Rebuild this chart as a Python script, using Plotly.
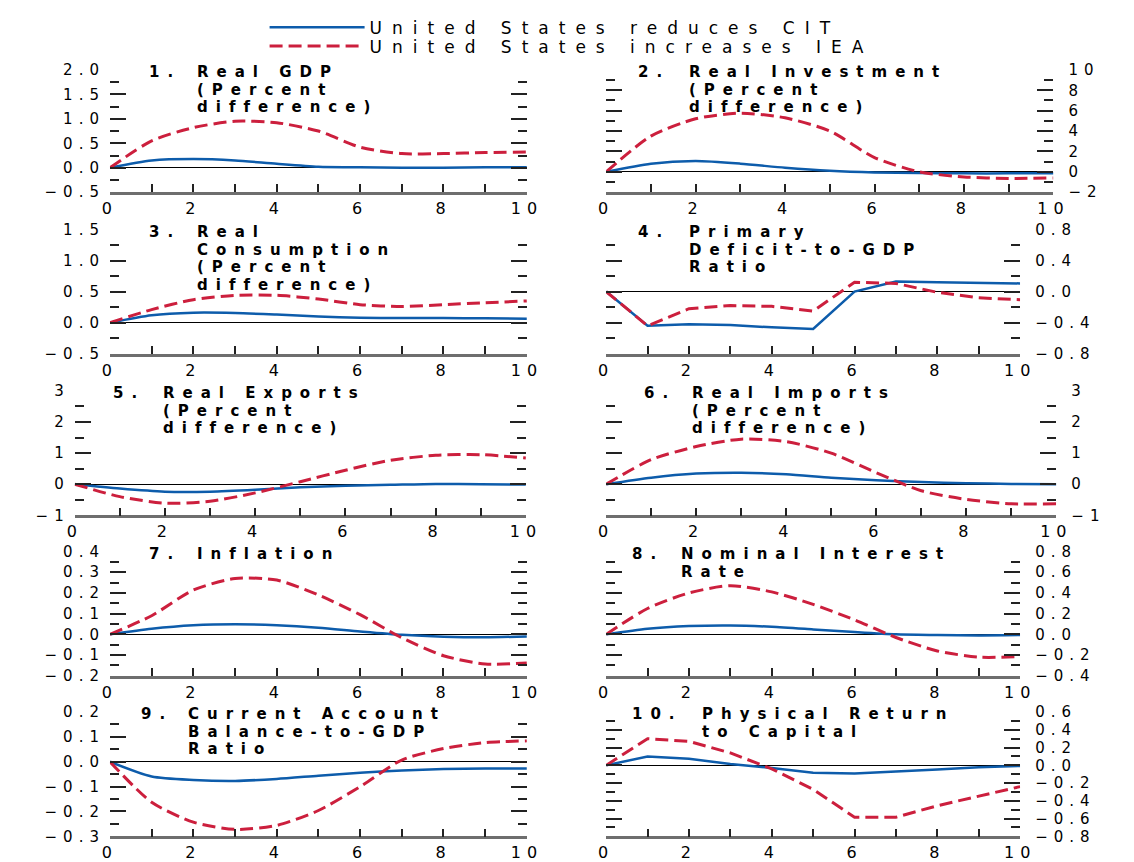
import plotly.graph_objects as go

# ---------------- data ----------------
years = list(range(11))
x_ticks = [0, 2, 4, 6, 8, 10]

gdp_cit = [0, 0.15, 0.18, 0.15, 0.08, 0.02, 0.01, 0.0, 0.0, 0.01, 0.01]
gdp_iea = [0, 0.55, 0.82, 0.95, 0.92, 0.75, 0.42, 0.29, 0.29, 0.31, 0.32]

inv_cit = [0, 0.8, 1.05, 0.8, 0.4, 0.1, -0.06, -0.12, -0.15, -0.15, -0.15]
inv_iea = [0, 3.5, 5.2, 5.75, 5.3, 4.0, 1.4, 0.0, -0.5, -0.65, -0.6]

cons_cit = [0, 0.12, 0.16, 0.155, 0.13, 0.10, 0.08, 0.075, 0.075, 0.07, 0.065]
cons_iea = [0, 0.21, 0.37, 0.44, 0.44, 0.38, 0.29, 0.26, 0.29, 0.32, 0.35]

def_cit = [0, -0.44, -0.42, -0.43, -0.46, -0.48, 0.0, 0.13, 0.12, 0.11, 0.105]
def_iea = [0, -0.44, -0.22, -0.18, -0.19, -0.25, 0.12, 0.105, -0.01, -0.08, -0.105]

exp_cit = [0, -0.14, -0.24, -0.24, -0.18, -0.10, -0.05, -0.02, 0.01, 0.0, -0.01]
exp_iea = [0, -0.40, -0.61, -0.55, -0.28, 0.08, 0.45, 0.77, 0.93, 0.95, 0.84]

imp_cit = [0, 0.21, 0.34, 0.37, 0.32, 0.21, 0.13, 0.07, 0.03, 0.01, 0.0]
imp_iea = [0, 0.79, 1.21, 1.45, 1.37, 1.0, 0.37, -0.21, -0.49, -0.63, -0.63]

infl_cit = [0, 0.027, 0.044, 0.049, 0.044, 0.032, 0.014, -0.002, -0.011, -0.014, -0.01]
infl_iea = [0, 0.09, 0.214, 0.27, 0.262, 0.19, 0.095, -0.016, -0.103, -0.143, -0.138]

rate_cit = [0, 0.054, 0.08, 0.086, 0.073, 0.048, 0.022, 0.0, -0.006, -0.01, -0.006]
rate_iea = [0, 0.25, 0.40, 0.47, 0.41, 0.29, 0.14, -0.03, -0.16, -0.22, -0.215]

ca_cit = [0, -0.059, -0.073, -0.077, -0.069, -0.056, -0.044, -0.035, -0.029, -0.027, -0.027]
ca_iea = [0, -0.163, -0.243, -0.272, -0.256, -0.196, -0.10, 0.007, 0.053, 0.077, 0.084]

ret_cit = [0, 0.10, 0.074, 0.015, -0.03, -0.085, -0.093, -0.074, -0.048, -0.022, -0.007]
ret_iea = [0, 0.30, 0.27, 0.14, -0.04, -0.27, -0.585, -0.585, -0.455, -0.345, -0.24]

series_cit = [gdp_cit, inv_cit, cons_cit, def_cit, exp_cit, imp_cit, infl_cit, rate_cit, ca_cit, ret_cit]
series_iea = [gdp_iea, inv_iea, cons_iea, def_iea, exp_iea, imp_iea, infl_iea, rate_iea, ca_iea, ret_iea]

legend_names = ["United States reduces CIT", "United States increases IEA"]

title_numbers = ["1.", "2.", "3.", "4.", "5.", "6.", "7.", "8.", "9.", "10."]
title_lines = [
    ["Real GDP", "(Percent", "difference)"],
    ["Real Investment", "(Percent", "difference)"],
    ["Real", "Consumption", "(Percent", "difference)"],
    ["Primary", "Deficit-to-GDP", "Ratio"],
    ["Real Exports", "(Percent", "difference)"],
    ["Real Imports", "(Percent", "difference)"],
    ["Inflation"],
    ["Nominal Interest", "Rate"],
    ["Current Account", "Balance-to-GDP", "Ratio"],
    ["Physical Return", "to Capital"],
]

# y tick labels per panel
gdp_ticks = [-0.5, 0.0, 0.5, 1.0, 1.5, 2.0]
inv_ticks = [-2, 0, 2, 4, 6, 8, 10]
cons_ticks = [-0.5, 0.0, 0.5, 1.0, 1.5]
def_ticks = [-0.8, -0.4, 0.0, 0.4, 0.8]
exp_ticks = [-1, 0, 1, 2, 3]
imp_ticks = [-1, 0, 1, 2, 3]
infl_ticks = [-0.2, -0.1, 0.0, 0.1, 0.2, 0.3, 0.4]
rate_ticks = [-0.4, -0.2, 0.0, 0.2, 0.4, 0.6, 0.8]
ca_ticks = [-0.3, -0.2, -0.1, 0.0, 0.1, 0.2]
ret_ticks = [-0.8, -0.6, -0.4, -0.2, 0.0, 0.2, 0.4, 0.6]
y_ticks = [gdp_ticks, inv_ticks, cons_ticks, def_ticks, exp_ticks,
           imp_ticks, infl_ticks, rate_ticks, ca_ticks, ret_ticks]
y_minor = [0.25, 1, 0.25, 0.2, 0.5, 0.5, 0.05, 0.1, 0.05, 0.1]
y_decimals = [1, 0, 1, 1, 0, 0, 1, 1, 1, 1]

# ---------------- layout geometry (screen pixels) ----------------
OFF = 8                      # page body margin
W, H = 1134 - OFF, 862 - OFF
x_px = [(104, 530), (611, 1068), (104, 530), (611, 1034), (68, 529),
        (611, 1071), (104, 530), (611, 1034), (104, 530), (611, 1034)]
row_top = [62, 225, 390, 554, 718]
row_bot = [187, 352, 517, 681, 845]
title_x = [(142, 191), (642, 694), (142, 191), (642, 694), (105, 156),
           (648, 697), (142, 191), (635, 685), (134, 182), (635, 707)]
legend_y = [19, 38]


def fx(p):
    return (p - OFF) / W


def fy(p):
    return 1 - (p - OFF) / H


BLUE = "#0d5cab"
RED = "#cc1f3d"
FONT = "DejaVu Sans"
TXT = "#000000"
SP_TICK = "letter-spacing:6px"
SP_TITLE = "letter-spacing:8px;font-size:15px"
SP_LEG = "letter-spacing:10px"


def fmt(v, d):
    s = f"{v:.{d}f}"
    return s.replace("-", "\u2212")


def spaced(s, style):
    return f"<span style='{style}'>{s}</span>"


fig = go.Figure()
annotations = []

for i in range(10):
    n = i + 1
    r = i // 2
    c = i % 2
    xs = "x" if n == 1 else f"x{n}"
    ys = "y" if n == 1 else f"y{n}"
    shape = "linear" if i in (3, 9) else "spline"

    fig.add_trace(go.Scatter(
        x=years, y=series_cit[i], mode="lines", name=spaced(legend_names[0], SP_LEG),
        line=dict(color=BLUE, width=2.5, shape=shape, smoothing=0.7),
        xaxis=xs, yaxis=ys, showlegend=(i == 0), legend="legend",
        hoverinfo="skip"))
    fig.add_trace(go.Scatter(
        x=years, y=series_iea[i], mode="lines", name=spaced(legend_names[1], SP_LEG),
        line=dict(color=RED, width=3, dash="13px,6px", shape=shape, smoothing=0.7),
        xaxis=xs, yaxis=ys, showlegend=(i == 0), legend="legend2",
        hoverinfo="skip"))

    x0, x1 = x_px[i]
    dom_x = [fx(x0), fx(x1)]
    dom_y = [fy(row_bot[r]), fy(row_top[r])]

    xkey = "xaxis" if n == 1 else f"xaxis{n}"
    ykey = "yaxis" if n == 1 else f"yaxis{n}"
    yt = y_ticks[i]

    fig.layout[xkey] = dict(
        domain=dom_x, anchor=ys, range=[0, 10],
        tickmode="array", tickvals=x_ticks,
        ticktext=[spaced(str(v), SP_TICK) for v in x_ticks],
        ticks="inside", ticklen=8, tickwidth=2, tickcolor="#222",
        minor=dict(tickmode="linear", tick0=0, dtick=1, ticks="inside",
                   ticklen=8, tickwidth=2, tickcolor="#222"),
        showline=True, linecolor="#6e6e6e", linewidth=2.5,
        showgrid=False, zeroline=False,
        tickfont=dict(family=FONT, size=16, color=TXT), fixedrange=True)

    fig.layout[ykey] = dict(
        domain=dom_y, anchor=xs, range=[yt[0], yt[-1]],
        tickmode="array", tickvals=yt,
        ticktext=[spaced(fmt(v, y_decimals[i]), SP_TICK) for v in yt],
        side="left" if c == 0 else "right",
        ticks="inside", ticklen=16, tickwidth=1.5, tickcolor="#222", mirror="ticks",
        minor=dict(tickmode="linear", tick0=0, dtick=y_minor[i], ticks="inside",
                   ticklen=9, tickwidth=1.5, tickcolor="#222"),
        showline=False, showgrid=False,
        zeroline=True, zerolinecolor="#000", zerolinewidth=1.2,
        ticklabelstandoff=4 if c == 0 else 14,
        tickfont=dict(family=FONT, size=15, color=TXT), fixedrange=True)

    # panel titles
    nx, tx = title_x[i]
    ytop = fy(row_top[r] - 9)
    annotations.append(dict(
        text=spaced(title_numbers[i], SP_TITLE), x=fx(nx), y=ytop,
        xref="paper", yref="paper", xanchor="left", yanchor="top",
        showarrow=False, align="left",
        font=dict(family=FONT, size=13.6, color=TXT, weight="bold")))
    annotations.append(dict(
        text="<br>".join(spaced(t, SP_TITLE) for t in title_lines[i]),
        x=fx(tx), y=ytop,
        xref="paper", yref="paper", xanchor="left", yanchor="top",
        showarrow=False, align="left",
        font=dict(family=FONT, size=13.6, color=TXT, weight="bold")))

leg_common = dict(xanchor="left", yanchor="middle",
                  font=dict(family=FONT, size=17, color=TXT),
                  itemwidth=95, bgcolor="rgba(0,0,0,0)", borderwidth=0)

fig.update_layout(
    width=W, height=H,
    margin=dict(l=0, r=0, t=0, b=0),
    paper_bgcolor="white", plot_bgcolor="white",
    annotations=annotations,
    showlegend=True,
    legend=dict(x=fx(262), y=fy(legend_y[0]), **leg_common),
    legend2=dict(x=fx(262), y=fy(legend_y[1]), **leg_common),
)

fig.write_html("out.html")
